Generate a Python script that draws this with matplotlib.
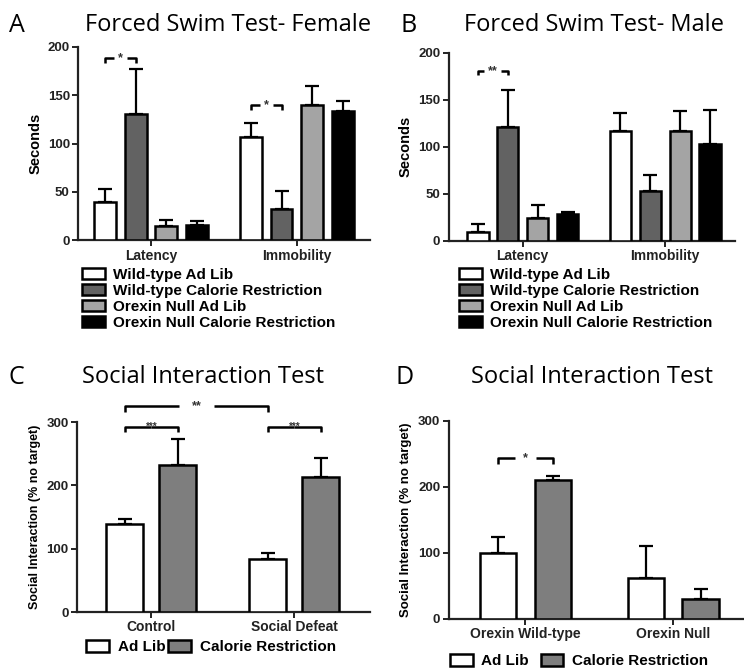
import matplotlib
matplotlib.use("Agg")
import matplotlib.pyplot as plt
from matplotlib.patches import Patch
import numpy as np

# ---- data ----
fst_groups = ["Latency", "Immobility"]
fst_labels = ["Wild-type Ad Lib", "Wild-type Calorie Restriction",
              "Orexin Null Ad Lib", "Orexin Null Calorie Restriction"]
fst_colors = ["white", "#626262", "#a4a4a4", "black"]

female_mean = [[40, 107], [130, 32], [15, 140], [16, 134]]
female_err = [[13, 14], [47, 19], [6, 19], [4, 10]]

male_mean = [[9, 117], [121, 53], [24, 117], [29, 103]]
male_err = [[9, 19], [40, 17], [14, 21], [2, 36]]

si_labels = ["Ad Lib", "Calorie Restriction"]
si_colors = ["white", "#7e7e7e"]

si_c_groups = ["Control", "Social Defeat"]
si_c_mean = [[139, 84], [232, 213]]
si_c_err = [[8, 9], [41, 30]]

si_d_groups = ["Orexin Wild-type", "Orexin Null"]
si_d_mean = [[99, 62], [210, 30]]
si_d_err = [[25, 49], [7, 15]]

BOLD = "Liberation Sans"
TITLE = "Open Sans"

fig = plt.figure(figsize=(7.44, 6.69), dpi=100)


def style_axes(ax, ylim, yticks):
    for s in ["top", "right"]:
        ax.spines[s].set_visible(False)
    for s in ["left", "bottom"]:
        ax.spines[s].set_linewidth(1.6)
        ax.spines[s].set_color("#222222")
    ax.set_ylim(*ylim)
    ax.set_yticks(yticks)
    ax.tick_params(axis="both", direction="out", length=4, width=1.4,
                   colors="#222222", pad=2)
    for lab in ax.get_yticklabels():
        lab.set_fontfamily(BOLD)
        lab.set_fontweight("bold")
        lab.set_fontsize(9.5)
    for lab in ax.get_xticklabels():
        lab.set_fontfamily(BOLD)
        lab.set_fontweight("bold")
        lab.set_fontsize(10)


def bars(ax, means, errs, colors, step, width):
    n = len(means)
    x = np.arange(len(means[0]))
    pos = []
    for i in range(n):
        xi = x + (i - (n - 1) / 2) * step
        ax.bar(xi, means[i], width, color=colors[i], edgecolor="black",
               linewidth=1.8, zorder=3)
        ax.errorbar(xi, means[i], yerr=[np.zeros(len(errs[i])), errs[i]],
                    fmt="none", ecolor="black", elinewidth=1.6, capsize=5,
                    capthick=1.6, zorder=2)
        pos.append(xi)
    return pos


def bracket(ax, x1, x2, y, h, text, gap, fs=9):
    xm = (x1 + x2) / 2
    kw = dict(color="black", lw=1.8, clip_on=False, solid_capstyle="butt")
    ax.plot([x1, x1, xm - gap], [y - h, y, y], **kw)
    ax.plot([xm + gap, x2, x2], [y, y, y - h], **kw)
    ax.text(xm, y, text, ha="center", va="center", fontsize=fs,
            fontfamily=BOLD, fontweight="bold", color="#333333")


def ylabel(ax, text, fs):
    ax.set_ylabel(text, fontfamily=BOLD, fontweight="bold", fontsize=fs,
                  labelpad=4)


# ---- panel A ----
axA = fig.add_axes([0.105, 0.641, 0.392, 0.289])
pA = bars(axA, female_mean, female_err, fst_colors, 0.21, 0.15)
axA.set_xlim(-0.5, 1.5)
axA.set_xticks([0, 1], fst_groups)
style_axes(axA, (0, 200), [0, 50, 100, 150, 200])
ylabel(axA, "Seconds", 10.5)
bracket(axA, pA[0][0], pA[1][0], 188, 5, "*", 0.045)
bracket(axA, pA[0][1], pA[1][1], 140, 5, "*", 0.045)

# ---- panel B ----
axB = fig.add_axes([0.603, 0.640, 0.385, 0.281])
pB = bars(axB, male_mean, male_err, fst_colors, 0.21, 0.15)
axB.set_xlim(-0.52, 1.49)
axB.set_xticks([0, 1], fst_groups)
style_axes(axB, (0, 200), [0, 50, 100, 150, 200])
ylabel(axB, "Seconds", 10.5)
bracket(axB, pB[0][0], pB[1][0], 181, 5, "**", 0.06)

# ---- panel C ----
axC = fig.add_axes([0.1035, 0.085, 0.394, 0.284])
pC = bars(axC, si_c_mean, si_c_err, si_colors, 0.37, 0.26)
axC.set_xlim(-0.52, 1.53)
axC.set_xticks([0, 1], si_c_groups)
style_axes(axC, (0, 300), [0, 100, 200, 300])
ylabel(axC, "Social Interaction (% no target)", 9)
bracket(axC, pC[0][0], pC[1][0], 293, 8, "***", 0.0, fs=7)
bracket(axC, pC[0][1], pC[1][1], 293, 8, "***", 0.0, fs=7)
bracket(axC, pC[0][0], pC[0][1], 325, 9, "**", 0.12)

# ---- panel D ----
axD = fig.add_axes([0.603, 0.075, 0.397, 0.296])
pD = bars(axD, si_d_mean, si_d_err, si_colors, 0.372, 0.245)
axD.set_xlim(-0.52, 1.48)
axD.set_xticks([0, 1], si_d_groups)
style_axes(axD, (0, 300), [0, 100, 200, 300])
ylabel(axD, "Social Interaction (% no target)", 9.5)
bracket(axD, pD[0][0], pD[1][0], 244, 9, "*", 0.07)


# ---- legends ----
def legend(labels, colors, x, y, ncol, colsp):
    handles = [Patch(facecolor=c, edgecolor="black", linewidth=1.8)
               for c in colors]
    fig.legend(handles, labels, loc="upper left", bbox_to_anchor=(x, y),
               ncol=ncol, frameon=False, borderpad=0, borderaxespad=0,
               handlelength=1.5, handleheight=0.8, handletextpad=0.55,
               labelspacing=0.12, columnspacing=colsp,
               prop={"family": BOLD, "weight": "bold", "size": 11})


legend(fst_labels, fst_colors, 0.110, 0.600, 1, 0.4)
legend(fst_labels, fst_colors, 0.617, 0.600, 1, 0.4)
legend(si_labels, si_colors, 0.116, 0.043, 2, 0.2)
legend(si_labels, si_colors, 0.605, 0.022, 2, 0.75)

# ---- titles and panel letters ----
titles = [("A", 0.012, 0.962, "Forced Swim Test- Female", 0.306),
          ("B", 0.538, 0.962, "Forced Swim Test- Male", 0.798),
          ("C", 0.012, 0.436, "Social Interaction Test", 0.273),
          ("D", 0.531, 0.436, "Social Interaction Test", 0.796)]
for letter, lx, ty, title, tx in titles:
    fig.text(lx, ty, letter, fontfamily=TITLE, fontsize=18, va="center",
             ha="left")
    fig.text(tx, ty, title, fontfamily=TITLE, fontsize=17, va="center",
             ha="center")

fig.savefig("out.png", dpi=100)
